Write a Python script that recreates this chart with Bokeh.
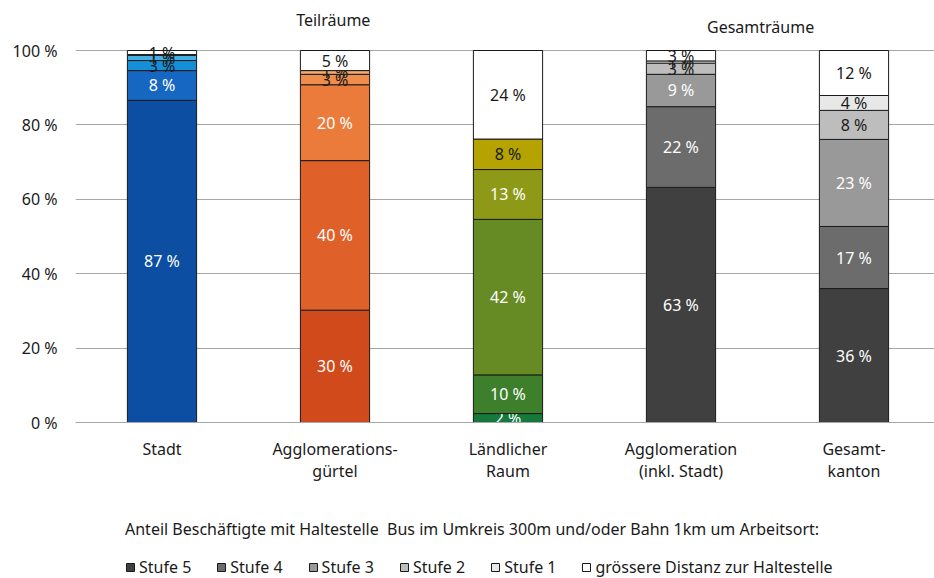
from bokeh.plotting import figure
from bokeh.models import (ColumnDataSource, Range1d, FixedTicker, Legend, LegendItem,
                          LinearAxis)
from bokeh.core.properties import value
from bokeh.embed import file_html
from bokeh.resources import INLINE

# ---------------- data ----------------
categories = ["Stadt", "Agglomerations-\ngürtel", "Ländlicher\nRaum",
              "Agglomeration\n(inkl. Stadt)", "Gesamt-\nkanton"]
levels = ["Stufe 5", "Stufe 4", "Stufe 3", "Stufe 2", "Stufe 1",
          "grössere Distanz zur Haltestelle"]
stufe5 = [86.6, 30.2, 2.4, 63.2, 36.0]
stufe4 = [8.0, 40.2, 10.4, 21.7, 16.7]
stufe3 = [2.7, 20.4, 41.8, 8.7, 23.4]
stufe2 = [1.4, 2.8, 13.4, 3.0, 7.8]
stufe1 = [0.2, 1.0, 8.2, 0.6, 4.0]
distanz = [1.1, 5.4, 23.8, 2.8, 12.1]
y_ticks = [0, 20, 40, 60, 80, 100]
group_titles = ["Teilräume", "Gesamträume"]
legend_title = "Anteil Beschäftigte mit Haltestelle\u00a0 Bus im Umkreis 300m und/oder Bahn 1km um Arbeitsort:"

series = [stufe5, stufe4, stufe3, stufe2, stufe1, distanz]

# ---------------- styles ----------------
bar_colors = [
    ["#0b4ea2", "#1667c1", "#1590d8", "#45b0e6", "#bfe2f6", "#ffffff"],
    ["#d04a1c", "#df6129", "#ea7b3b", "#ef8d4d", "#f5a86f", "#ffffff"],
    ["#16793b", "#3e7f2b", "#678b24", "#8e9a17", "#b4a300", "#ffffff"],
    ["#404040", "#6c6c6c", "#999999", "#bdbdbd", "#e3e3e3", "#ffffff"],
    ["#404040", "#6c6c6c", "#999999", "#bdbdbd", "#e8e8e8", "#ffffff"],
]
W, K = "#ffffff", "#1a1a1a"
text_colors = [
    [W, W, K, K, K, K],
    [W, W, W, K, K, K],
    [W, W, W, W, K, K],
    [W, W, W, K, K, K],
    [W, W, W, K, K, K],
]
FONT = "Noto Sans"
FS = "16px"
PX_PER_UNIT = 3.72

p = figure(width=934, height=578, output_backend="svg", toolbar_location=None,
           x_axis_location=None,
           x_range=Range1d(0, 859 / 173),
           y_range=Range1d(-(578 - 422) / PX_PER_UNIT, 422 / PX_PER_UNIT),
           min_border_left=75, min_border_right=0, min_border_top=0,
           min_border_bottom=0)
p.outline_line_color = None
p.background_fill_color = "#ffffff"

xs = [0.5 + i for i in range(len(categories))]
bottoms = [0.0] * len(categories)
renderers = []
for j, vals in enumerate(series):
    tops = [b + v for b, v in zip(bottoms, vals)]
    src = ColumnDataSource(dict(
        x=xs, bottom=list(bottoms), top=tops,
        color=[bar_colors[i][j] for i in range(len(xs))],
        mid=[b + v / 2 for b, v in zip(bottoms, vals)],
        label=[f"{round(v)} %" if round(v) >= 1 else "" for v in vals],
        tcolor=[text_colors[i][j] for i in range(len(xs))],
    ))
    r = p.vbar(x="x", bottom="bottom", top="top", width=0.4, source=src,
               fill_color="color", line_color="#1a1a1a", line_width=1)
    renderers.append(r)
    p.text(x="x", y="mid", text="label", source=src, text_color="tcolor",
           text_align="center", text_baseline="middle",
           text_font=value(FONT), text_font_size=FS)
    bottoms = tops

# group titles
tsrc = ColumnDataSource(dict(x=[1.49, 3.96], y=[108.1, 106.2], t=group_titles))
p.text(x="x", y="y", text="t", source=tsrc, text_align="center",
       text_baseline="middle", text_color="#1a1a1a",
       text_font=value(FONT), text_font_size=FS)

# y axis / grid
p.yaxis.ticker = FixedTicker(ticks=y_ticks)
p.yaxis.major_label_overrides = {t: f"{t} %" for t in y_ticks}
p.yaxis.axis_line_color = None
p.yaxis.major_tick_line_color = None
p.yaxis.minor_tick_line_color = None
p.yaxis.major_tick_out = 0
p.yaxis.major_label_standoff = 18
p.yaxis.major_label_text_font = FONT
p.yaxis.major_label_text_font_size = FS
p.yaxis.major_label_text_color = "#1a1a1a"
p.ygrid.grid_line_color = "#a6a6a6"
p.ygrid.grid_line_width = 1

# x axis fixed at y = 0
xaxis = LinearAxis(fixed_location=0, ticker=FixedTicker(ticks=xs),
                   major_label_overrides={x: c for x, c in zip(xs, categories)})
xaxis.axis_line_color = "#a6a6a6"
xaxis.major_tick_line_color = None
xaxis.minor_tick_line_color = None
xaxis.major_tick_out = 0
xaxis.major_label_standoff = 15
xaxis.major_label_text_font = FONT
xaxis.major_label_text_font_size = FS
xaxis.major_label_text_line_height = 1.0
xaxis.major_label_text_color = "#1a1a1a"
p.add_layout(xaxis, "below")
p.xgrid.grid_line_color = None

legend = Legend(
    items=[LegendItem(label=levels[j], renderers=[renderers[j]], index=4)
           for j in range(len(levels))],
    location=(50, 0), orientation="horizontal",
    title=legend_title, title_text_font=FONT, title_text_font_size=FS,
    title_text_font_style="normal", title_text_color="#1a1a1a",
    title_standoff=16,
    label_text_font=FONT, label_text_font_size=FS, label_text_color="#1a1a1a",
    glyph_width=10, glyph_height=10, label_standoff=4, spacing=25,
    padding=0, margin=0, border_line_color=None, background_fill_alpha=0,
)
p.add_layout(legend)

open("out.html", "w").write(file_html(p, INLINE))
